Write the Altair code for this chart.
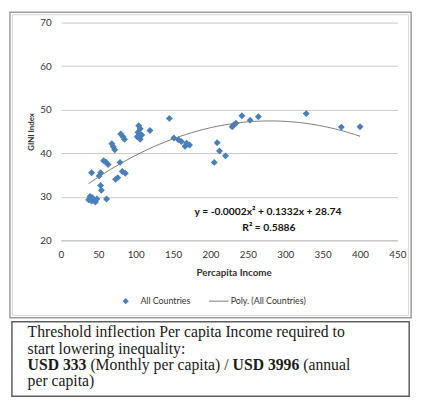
import altair as alt
import pandas as pd

# ---- data ----
income = [37, 39, 41, 42, 44, 46, 48, 61,
          41, 51, 53, 53, 54,
          57, 60, 63, 68, 70, 72, 73, 76, 79, 82, 86,
          80, 83, 85, 104, 106, 103, 102, 106, 108, 119, 145,
          151, 157, 161, 168, 166, 172,
          205, 209, 212, 220,
          229, 231, 234, 242, 253, 264,
          328, 375, 400]
gini = [29.3, 30.1, 29.0, 29.8, 29.3, 28.8, 29.5, 29.5,
        35.5, 34.8, 35.5, 32.6, 31.5,
        38.3, 38.0, 37.4, 42.2, 41.5, 40.8, 34.0, 34.4, 37.9, 35.8, 35.4,
        44.4, 43.8, 43.2, 46.3, 45.6, 44.8, 43.8, 43.2, 44.2, 45.2, 48.0,
        43.5, 43.1, 42.7, 42.3, 41.6, 41.9,
        37.9, 42.4, 40.5, 39.4,
        46.1, 46.5, 46.9, 48.6, 47.6, 48.4,
        49.1, 46.0, 46.1]

x_ticks = [0, 50, 100, 150, 200, 250, 300, 350, 400, 450]
y_ticks = [20, 30, 40, 50, 60, 70]

x_title = "Percapita Income"
y_title = "GINI Index"
equation = "y = -0.0002x² + 0.1332x + 28.74"
r_squared = "R² = 0.5886"
legend_labels = ["All Countries", "Poly. (All Countries)"]
note_line1 = "Threshold inflection Per capita Income required to"
note_line2 = "start lowering inequality:"
note_line3 = ["USD 333", "(Monthly per capita) /", "USD 3996", "(annual"]
note_line4 = "per capita)"

BLUE = "#4a7ebb"
GRAY_LINE = "#7a7a7a"
LABEL = "#333333"
SANS = "Lato"
SERIF = "Liberation Serif"

df = pd.DataFrame({"income": income, "gini": gini})
one = pd.DataFrame({"k": [0]})

x_scale = alt.Scale(domain=[0, 450], nice=False, zero=False)
y_scale = alt.Scale(domain=[20, 70], nice=False, zero=False)

x_axis = alt.Axis(values=x_ticks, title=x_title, grid=False, ticks=False, tickSize=0,
                  domain=True, domainColor="#bdbdbd", domainWidth=1,
                  labelOverlap=False, labelFlush=False,
                  labelFont=SANS, labelFontSize=10, labelColor=LABEL, labelPadding=9,
                  titleFont=SANS, titleFontSize=10, titleFontWeight="bold", titleColor=LABEL,
                  titleX=176, titleY=33, titleBaseline="middle", titleAlign="center")
y_axis = alt.Axis(values=y_ticks, title=y_title, grid=True, gridColor="#c8c8c8", gridWidth=1,
                  ticks=False, tickSize=0, domain=False, labelOverlap=False,
                  labelFont=SANS, labelFontSize=10, labelColor=LABEL, labelPadding=10,
                  titleFont=SANS, titleFontSize=8, titleFontWeight="bold", titleColor=LABEL,
                  titleAngle=270, titleX=-30, titleY=111, titleBaseline="middle",
                  titleAlign="center")

points = alt.Chart(df).mark_point(
    shape="diamond", filled=True, size=50, color=BLUE, opacity=1
).encode(
    x=alt.X("income:Q", scale=x_scale, axis=x_axis),
    y=alt.Y("gini:Q", scale=y_scale, axis=y_axis),
)

trend = alt.Chart(df).transform_regression(
    "income", "gini", method="poly", order=2
).mark_line(color=GRAY_LINE, strokeWidth=1).encode(
    x=alt.X("income:Q", scale=x_scale, axis=x_axis),
    y=alt.Y("gini:Q", scale=y_scale, axis=y_axis),
)

eq_text = alt.Chart(one).mark_text(
    text=equation, font=SANS, fontSize=10.5, fontWeight="bold", color="#111111",
    align="center", baseline="middle"
).encode(x=alt.value(211), y=alt.value(193))

r2_text = alt.Chart(one).mark_text(
    text=r_squared, font=SANS, fontSize=10.5, fontWeight="bold", color="#111111",
    align="center", baseline="middle"
).encode(x=alt.value(212), y=alt.value(209))

# legend (manual)
leg_diamond = alt.Chart(one).mark_point(
    shape="diamond", filled=True, size=40, color=BLUE, opacity=1
).encode(x=alt.value(66), y=alt.value(284))
leg_t1 = alt.Chart(one).mark_text(
    text=legend_labels[0], font=SANS, fontSize=9, color=LABEL, align="left", baseline="middle"
).encode(x=alt.value(81), y=alt.value(284))
leg_line = alt.Chart(one).mark_rule(color=GRAY_LINE, strokeWidth=1).encode(
    x=alt.value(151), x2=alt.value(171), y=alt.value(284))
leg_t2 = alt.Chart(one).mark_text(
    text=legend_labels[1], font=SANS, fontSize=9, color=LABEL, align="left", baseline="middle"
).encode(x=alt.value(173), y=alt.value(284))

# chart frame (double grey line)
frame_outer = alt.Chart(one).mark_rect(fillOpacity=0, stroke="#9c9c9c", strokeWidth=1.5).encode(
    x=alt.value(-52), x2=alt.value(357), y=alt.value(-10.5), y2=alt.value(301))
frame_inner = alt.Chart(one).mark_rect(fillOpacity=0, stroke="#d4d4d4", strokeWidth=1).encode(
    x=alt.value(-49.5), x2=alt.value(354.5), y=alt.value(-8), y2=alt.value(298.5))

# note box
box = alt.Chart(one).mark_rect(fillOpacity=0, stroke="#5e5e5e", strokeWidth=1.5).encode(
    x=alt.value(-50), x2=alt.value(355), y=alt.value(305), y2=alt.value(381))

FS = 16
def note(txt, x, y, bold=False):
    return alt.Chart(one).mark_text(
        text=txt, font=SERIF, fontSize=FS, fontWeight="bold" if bold else "normal",
        color="#1a1a1a", align="left", baseline="alphabetic"
    ).encode(x=alt.value(x), y=alt.value(y))

n1 = note(note_line1, -34, 321)
n2 = note(note_line2, -34, 337.5)
n3a = note(note_line3[0], -34, 354, True)
n3b = note(note_line3[1], 30, 354)
n3c = note(note_line3[2], 175, 354, True)
n3d = note(note_line3[3], 247, 354)
n4 = note(note_line4, -34, 370.5)

chart = alt.layer(
    frame_outer, frame_inner, box,
    points, trend, eq_text, r2_text,
    leg_diamond, leg_t1, leg_line, leg_t2,
    n1, n2, n3a, n3b, n3c, n3d, n4,
).properties(
    width=343, height=222,
    padding={"left": 54, "top": 11, "right": 21, "bottom": 164},
    autosize=alt.AutoSizeParams(type="none"),
    background="white",
).configure_view(stroke=None)

chart.save("out.html", embed_options={"renderer": "svg", "actions": False})
